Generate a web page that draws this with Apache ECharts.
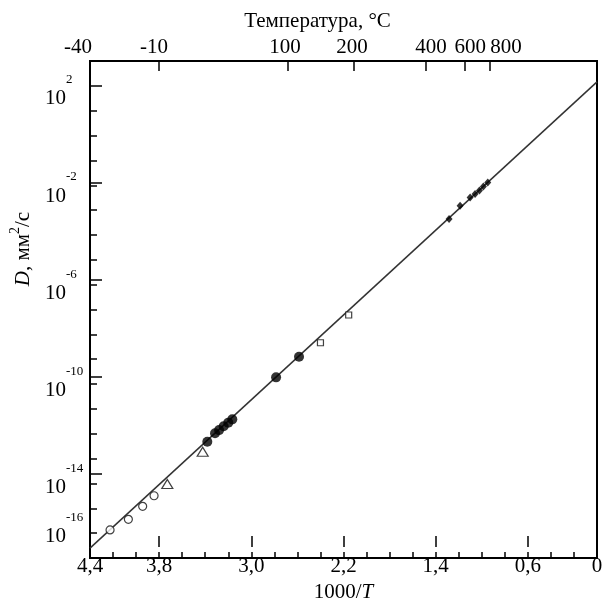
<!DOCTYPE html>
<html><head><meta charset="utf-8">
<script src="https://cdn.jsdelivr.net/npm/echarts@6/dist/echarts.min.js"></script>
<style>html,body{margin:0;padding:0;background:#fff}#c{width:612px;height:608px}</style>
</head><body><div id="c"></div>
<script>
// x = 1000/T, y = D (mm^2/s)
const openCircles = [[4.226,1.35e-16],[4.067,3.6e-16],[3.943,1.2e-15],[3.844,3.2e-15]];
const triangles = [[3.729,9.5e-15],[3.422,1.9e-13]];
const filledCircles = [[3.382,4.8e-13],[3.315,1.05e-12],[3.28,1.4e-12],[3.24,2.0e-12],[3.20,2.8e-12],[3.165,3.8e-12],[2.785,1.86e-10],[2.586,1.26e-9]];
const squares = [[2.40,4.6e-9],[2.155,6.0e-8]];
const diamonds = [[1.284,4.4e-4],[1.188,1.5e-3],[1.101,3.2e-3],[1.058,4.4e-3],[1.020,6.2e-3],[0.986,8.9e-3],[0.948,1.3e-2]];
const fitLine = [[4.4,2.5e-17],[0,145]];
const xLabels = [4.4,3.8,3.0,2.2,1.4,0.6,0];
const xMajorTicks = [3.8,3.0,2.2,1.4,0.6];
const yLabelExps = [2,-2,-6,-10,-14,-16];
const yMajorExps = [2,-2,-6,-10,-14];
const tempC = [-40,-10,100,200,400,600,800];
const tempTickC = [-10,100,200,400,600,800];
// where the reference prints each temperature label (in 1000/T units)
const tempLabelAt = [4.4,3.844,2.707,2.126,1.44,1.101,0.789];

const F = 'Liberation Serif';
const FS = 21;
const tempTickPos = tempTickC.map(c => 1000/(c+273.15));
const G = {left:90,right:15,top:61,bottom:50};
const black = '#000';

const chart = echarts.init(document.getElementById('c'));
chart.setOption({
  backgroundColor:'#fff',
  animation:false,
  grid:[
    Object.assign({show:true,borderColor:black,borderWidth:2,backgroundColor:'transparent'},G),
    Object.assign({show:false},G)
  ],
  xAxis:[
    {gridIndex:0,type:'value',position:'bottom',min:0,max:4.4,inverse:true,interval:0.2,
     axisLine:{onZero:false,lineStyle:{color:black,width:2}},
     axisTick:{inside:true,length:6,lineStyle:{color:black,width:1.5}},
     axisLabel:{show:false},splitLine:{show:false}},
    {gridIndex:1,type:'value',position:'bottom',min:0,max:4.4,inverse:true,interval:0.2,
     axisLine:{show:false,onZero:false},
     axisTick:{inside:true,length:11,customValues:xMajorTicks,lineStyle:{color:black,width:1.5}},
     axisLabel:{customValues:xLabels,margin:9,color:black,fontFamily:F,fontSize:FS,hideOverlap:false,
       formatter:v=> v===0?'0':v.toFixed(1).replace('.',',')},
     splitLine:{show:false},
     name:'{n|1000/}{i|T}',nameLocation:'middle',nameGap:34,
     nameTextStyle:{rich:{n:{fontFamily:F,fontSize:FS,color:black},i:{fontFamily:F,fontSize:FS,fontStyle:'italic',color:black}}}},
    {gridIndex:1,type:'value',position:'top',min:0,max:4.4,inverse:true,
     axisLine:{show:true,onZero:false,lineStyle:{color:black,width:2}},
     axisTick:{inside:true,length:10,customValues:tempTickPos,lineStyle:{color:black,width:1.5}},
     axisLabel:{customValues:tempLabelAt,margin:3,color:black,fontFamily:F,fontSize:FS,hideOverlap:false,
       formatter:v=>{const i=tempLabelAt.findIndex(p=>Math.abs(p-v)<1e-6);if(i<0)return '';return i===0?'{l|'+tempC[i]+'}':String(tempC[i]);},
       rich:{l:{fontFamily:F,fontSize:FS,color:black,padding:[0,24,0,0]}}},
     splitLine:{show:false},
     name:'Температура, °C',nameLocation:'middle',nameGap:29,
     nameTextStyle:{fontFamily:F,fontSize:FS,color:black,padding:[0,52,0,0]}}
  ],
  yAxis:[
    {gridIndex:0,type:'log',logBase:10,min:1e-17,max:1e3,interval:1,splitNumber:20,
     axisLine:{onZero:false,lineStyle:{color:black,width:2}},
     axisTick:{inside:true,length:7,lineStyle:{color:black,width:1.5}},
     axisLabel:{show:false},splitLine:{show:false},minorTick:{show:false}},
    {gridIndex:1,type:'value',min:-17,max:3,
     axisLine:{show:false,onZero:false},
     axisTick:{inside:true,length:12,customValues:yMajorExps,lineStyle:{color:black,width:1.5}},
     axisLabel:{customValues:yLabelExps,margin:45,align:'left',hideOverlap:false,padding:[12,0,0,0],
       formatter:v=>'{b|10}{s|'+v+'}',
       rich:{b:{fontFamily:F,fontSize:FS,color:black,lineHeight:36,verticalAlign:'bottom'},
             s:{fontFamily:F,fontSize:13,color:black,lineHeight:14,verticalAlign:'top'}}},
     splitLine:{show:false},
     name:'{i|D}{n|, мм}{s|2}{n|/с}',nameLocation:'middle',nameGap:40,nameRotate:90,
     nameTextStyle:{padding:[0,0,0,110],rich:{
       i:{fontFamily:F,fontSize:FS,fontStyle:'italic',color:black,lineHeight:26,verticalAlign:'bottom'},
       n:{fontFamily:F,fontSize:FS,color:black,lineHeight:26,verticalAlign:'bottom'},
       s:{fontFamily:F,fontSize:14,color:black,lineHeight:14,verticalAlign:'top'}}}}
  ],
  series:[
    {type:'line',xAxisIndex:0,yAxisIndex:0,data:fitLine,showSymbol:false,symbol:'none',
     lineStyle:{color:'#333',width:1.5},z:1,silent:true},
    {type:'scatter',xAxisIndex:0,yAxisIndex:0,data:openCircles,symbol:'circle',symbolSize:8,
     itemStyle:{color:'#fff',borderColor:'#111',borderWidth:1.2},z:3},
    {type:'scatter',xAxisIndex:0,yAxisIndex:0,data:triangles,symbol:'triangle',symbolSize:[11,9],
     itemStyle:{color:'#fff',borderColor:'#111',borderWidth:1.2},z:3},
    {type:'scatter',xAxisIndex:0,yAxisIndex:0,data:filledCircles,symbol:'circle',symbolSize:10,
     itemStyle:{color:'#000'},z:3},
    {type:'scatter',xAxisIndex:0,yAxisIndex:0,data:squares,symbol:'rect',symbolSize:6,
     itemStyle:{color:'#fff',borderColor:'#111',borderWidth:1.2},z:3},
    {type:'scatter',xAxisIndex:0,yAxisIndex:0,data:diamonds,symbol:'diamond',symbolSize:[7,8],
     itemStyle:{color:'#000'},z:3}
  ]
});
</script></body></html>
